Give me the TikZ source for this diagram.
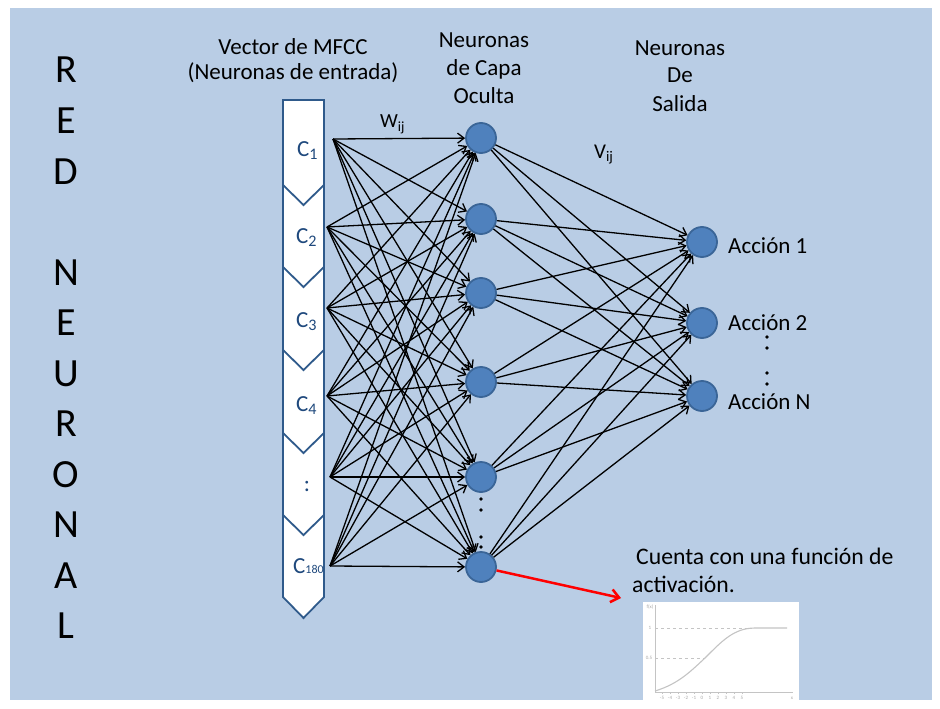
\documentclass[tikz,border=0pt]{standalone}
\usepackage{fontspec}
\setmainfont{Carlito}
\usetikzlibrary{arrows.meta}
\definecolor{slidebg}{HTML}{B9CDE5}
\definecolor{nodefill}{HTML}{4F81BD}
\definecolor{nodeline}{HTML}{3A6597}
\definecolor{colline}{HTML}{2F5A8B}
\definecolor{coltext}{HTML}{1F497D}
\definecolor{plotgrey}{HTML}{C4C4C4}
\definecolor{plottext}{HTML}{A8A8A8}
\tikzset{
  neuron/.style={circle, fill=nodefill, draw=nodeline, line width=1.8pt, minimum size=30pt, inner sep=0pt},
  wire/.style={black, line width=1.3pt, -{Straight Barb[length=6.5pt,width=10pt]}},
  lbl/.style={font=\fontsize{23}{27}\selectfont, inner sep=0pt, anchor=base},
  biglbl/.style={font=\fontsize{40}{44}\selectfont, inner sep=0pt, anchor=base},
  clbl/.style={font=\fontsize{23}{27}\selectfont, text=coltext, inner sep=0pt, anchor=base west},
  ptxt/.style={font=\fontsize{5}{6}\selectfont, text=plottext, inner sep=0pt},
  dot/.style={fill=black}
}
\begin{document}
\begin{tikzpicture}[x=1pt,y=-1pt]
\useasboundingbox (0,0) rectangle (940,709);
\fill[white] (0,0) rectangle (940,709);
\fill[slidebg] (10,8) rectangle (932,700);

% vertical title
\foreach \ch/\yy in {R/83, E/133.5, D/184, N/285, E/335.5, U/386, R/436.5, O/487, N/537.5, A/588, L/638.5}
  \node[biglbl] (title-\yy) at (66,\yy) {\ch};

% column headers
\node[lbl] (hin1) at (293,55) {Vector de MFCC};
\node[lbl] (hin2) at (293,80) {(Neuronas de entrada)};
\node[lbl] (hhid1) at (484,48) {Neuronas};
\node[lbl] (hhid2) at (484,75) {de Capa};
\node[lbl] (hhid3) at (484,103) {Oculta};
\node[lbl] (hout1) at (680,56) {Neuronas};
\node[lbl] (hout2) at (680,83) {De};
\node[lbl] (hout3) at (680,111) {Salida};

% input vector drawn as a stack of chevrons
\filldraw[fill=white, draw=colline, line width=1.8pt, line join=miter]
  (283,100) -- (324,100) -- (324,597) -- (303.5,618) -- (283,597) -- cycle;
\foreach \yy in {185,267,350,433,515}
  \draw[colline, line width=1.8pt] (283,\yy) -- (303.5,\yy+20) -- (324,\yy);

\node[clbl] (c1) at (297,156) {C\textsubscript{1}};
\node[clbl] (c2) at (296,243) {C\textsubscript{2}};
\node[clbl] (c3) at (296,327) {C\textsubscript{3}};
\node[clbl] (c4) at (296,411) {C\textsubscript{4}};
\node[lbl, text=coltext] (c5) at (307,491) {:};
\node[clbl] (c6) at (293,573) {C{\fontsize{12}{12}\selectfont 180}};

% wire origins on the input vector
\coordinate (i1) at (333,139);
\coordinate (i2) at (327,227);
\coordinate (i3) at (327,308);
\coordinate (i4) at (327,396);
\coordinate (i5) at (330,477);
\coordinate (i6) at (330,566);

% hidden layer
\node[neuron] (h1) at (481,138) {};
\node[neuron] (h2) at (481,219) {};
\node[neuron] (h3) at (481,293) {};
\node[neuron] (h4) at (481,382) {};
\node[neuron] (h5) at (481,477) {};
\node[neuron] (h6) at (481,567) {};

% output layer
\node[neuron] (o1) at (702,242) {};
\node[neuron] (o2) at (702,323) {};
\node[neuron] (o3) at (702,396) {};

% connections
\foreach \a in {1,...,6}
  \foreach \b in {1,...,6}
    \draw[wire] (i\a) -- (h\b);
\foreach \a in {1,...,6}
  \foreach \b in {1,2,3}
    \draw[wire] (h\a) -- (o\b);

% weight labels
\node[lbl, anchor=base west, font=\fontsize{20}{24}\selectfont] (w) at (380,128) {W\textsubscript{ij}};
\node[lbl, anchor=base west, font=\fontsize{21}{24}\selectfont] (v) at (594,158) {V\textsubscript{ij}};

% ellipsis dots
\foreach \yy in {499,510,537,547}
  \fill[dot] (481,\yy) circle (1.8);
\foreach \yy in {337,348,373,384}
  \fill[dot] (767,\yy) circle (1.8);

% output labels
\node[lbl, anchor=base west] (a1) at (728,253) {Acción 1};
\node[lbl, anchor=base west] (a2) at (728,330) {Acción 2};
\node[lbl, anchor=base west] (a3) at (728,409) {Acción N};

% activation note
\node[lbl, anchor=base west, font=\fontsize{23.7}{27}\selectfont] (note1) at (636,564) {Cuenta con una función de};
\node[lbl, anchor=base west, font=\fontsize{23.7}{27}\selectfont] (note2) at (632,592) {activación.};
\coordinate (plotin) at (621,598);
\draw[red, line width=2.5pt, -{Straight Barb[length=8pt,width=13pt]}] (h6) -- (plotin);

% small activation-function plot
\fill[white] (643,602) rectangle (799,700);
\draw[plotgrey, line width=0.9pt] (655,605) -- (655,692) -- (793,692);
\draw[plotgrey, line width=0.8pt, dashed] (655,628) -- (752,628);
\draw[plotgrey, line width=0.8pt, dashed] (655,658) -- (705,658);
\draw[plotgrey, line width=1.1pt]
  (655,691) .. controls (678,684) and (690,672) .. (705,658)
  .. controls (722,641) and (734,628) .. (755,628) -- (787,628);
\foreach \k in {-5,...,5}
  \draw[plotgrey, line width=0.6pt] (702+8*\k,692) -- (702+8*\k,694);
\foreach \k in {-5,...,5}
  \node[ptxt] (tick\k) at (702+8*\k,698) {\k};
\node[ptxt] (fx) at (650,607) {f(x)};
\node[ptxt] (one) at (650,628) {1};
\node[ptxt] (half) at (649,658) {0.5};
\node[ptxt] (xl) at (792,698) {x};
\end{tikzpicture}
\end{document}
